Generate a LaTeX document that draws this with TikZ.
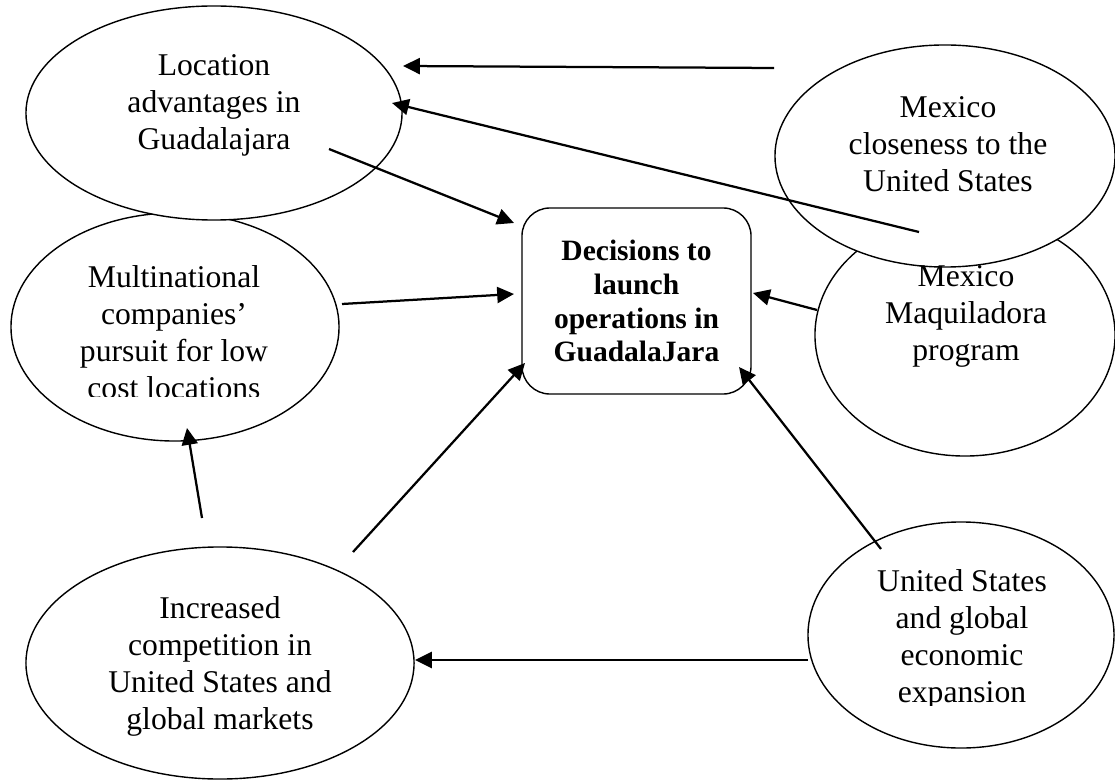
\documentclass[tikz,border=0pt]{standalone}
\usepackage{fontspec}
\setmainfont{Liberation Serif}
\usetikzlibrary{arrows.meta, shapes.geometric, positioning}

\tikzset{
  bubble/.style={ellipse, draw, line width=1pt, fill=white, inner sep=0pt},
  bubbletext/.style={align=center, inner sep=0pt, font=\fontsize{22.5}{26.3}\selectfont},
  decbox/.style={draw, rounded corners=0.7cm, line width=1pt, align=center,
    minimum width=5.725cm, minimum height=4.65cm, inner sep=0pt,
    font=\fontsize{21}{24.1}\selectfont\bfseries},
  link/.style={line width=1.6pt, -{Triangle[length=0.42cm, width=0.4cm]}}
}

\begin{document}
\begin{tikzpicture}[x=0.025cm, y=-0.025cm]
  \useasboundingbox (0,0) rectangle (1115,780);
  % ellipses
  \node[bubble, minimum width=8.2cm, minimum height=5.7cm] (mnc) at (175,327) {};
  \node[bubble, minimum width=9.4cm, minimum height=5.35cm] (loc) at (214,113) {};
  \node[bubble, minimum width=7.5cm, minimum height=6.05cm] (maq) at (965,335) {};
  \node[bubble, minimum width=8.5cm, minimum height=5.55cm] (close) at (945,156) {};
  \node[bubble, minimum width=9.7cm, minimum height=5.8cm] (comp) at (220,663) {};
  \node[bubble, minimum width=7.65cm, minimum height=5.65cm] (econ) at (961,635) {};
  \node[decbox] (dec) at (636.5,301) {Decisions to\\launch\\operations in\\GuadalaJara};

  % texts
  \node[bubbletext] (loc-txt) at (214,105) {Location\\advantages in\\Guadalajara};
  \node[bubbletext] (close-txt) at (948,144) {Mexico\\closeness to the\\United States};
  \node[bubbletext] (maq-txt) at (966,316) {Mexico\\Maquiladora\\program};
  \node[bubbletext] (comp-txt) at (220,666) {Increased\\competition in\\United States and\\global markets};
  \begin{scope}
    \clip (0,0) rectangle (560,396);
    \node[bubbletext] (mnc-txt) at (174,332) {Multinational\\companies'\\pursuit for low\\cost locations};
  \end{scope}
  \begin{scope}
    \clip (560,400) rectangle (1115,705);
    \node[bubbletext] (econ-txt) at (962,639) {United States\\and global\\economic\\expansion};
  \end{scope}

  % arrow ends
  \coordinate (c1) at (774,68);   \coordinate (l1) at (403,66);
  \coordinate (c2) at (919,232);  \coordinate (l2) at (392,103);
  \coordinate (l3) at (329,149);  \coordinate (d1) at (514,223);
  \coordinate (m1) at (342,304);  \coordinate (d2) at (514,294);
  \coordinate (q1) at (817,310);  \coordinate (d3) at (753,293);
  \coordinate (p1) at (353,552);  \coordinate (d4) at (525,363);
  \coordinate (p2) at (202,518);  \coordinate (m2) at (187,428);
  \coordinate (e1) at (881,549);  \coordinate (d5) at (739,367);
  \coordinate (e2) at (808,660);  \coordinate (p3) at (415,660);

  \draw
    (c1) edge[link] (l1)
    (c2) edge[link] (l2)
    (l3) edge[link] (d1)
    (m1) edge[link] (d2)
    (q1) edge[link] (d3)
    (p1) edge[link] (d4)
    (p2) edge[link] (m2)
    (e1) edge[link] (d5)
    (e2) edge[link] (p3);
\end{tikzpicture}
\end{document}
